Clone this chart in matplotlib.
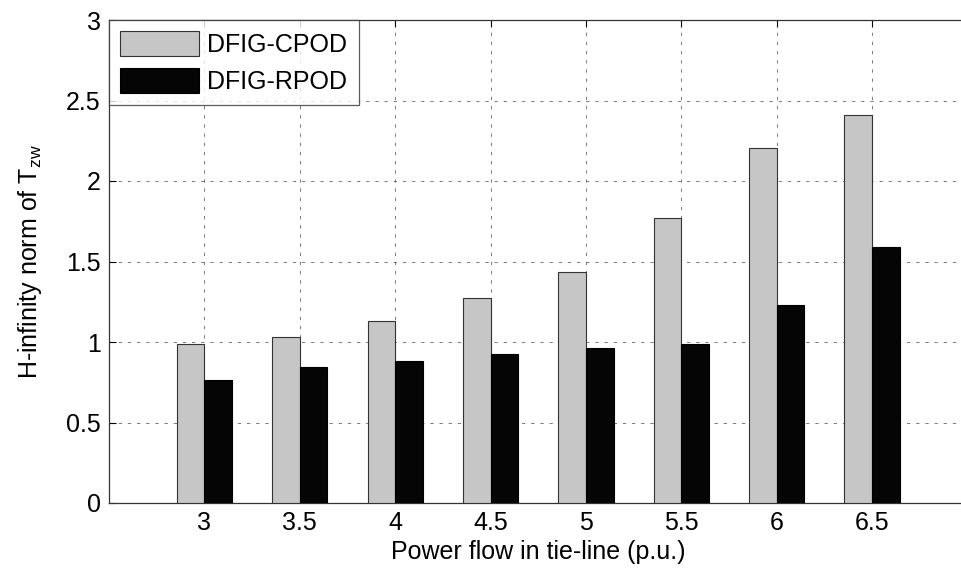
import matplotlib
matplotlib.use("Agg")
import matplotlib.pyplot as plt
import numpy as np

power_flow = [3, 3.5, 4, 4.5, 5, 5.5, 6, 6.5]
cpod = [0.99, 1.03, 1.13, 1.275, 1.435, 1.77, 2.205, 2.41]
rpod = [0.765, 0.845, 0.885, 0.925, 0.965, 0.99, 1.23, 1.59]
tick_labels = ["3", "3.5", "4", "4.5", "5", "5.5", "6", "6.5"]
y_ticks = [0, 0.5, 1, 1.5, 2, 2.5, 3]
y_tick_labels = ["0", "0.5", "1", "1.5", "2", "2.5", "3"]

plt.rcParams['font.family'] = ['Liberation Sans', 'DejaVu Sans']
FS = 18

fig = plt.figure(figsize=(9.62, 5.77), dpi=100)
ax = fig.add_axes([109/962, 1-503/577, (967.5-109)/962, (503-20)/577])

x = np.array(power_flow)
w = 0.145
ax.bar(x - w/2, cpod, width=w, color='#c6c6c6', edgecolor='#333333', linewidth=0.8,
       label='DFIG-CPOD', zorder=3)
ax.bar(x + w/2, rpod, width=w, color='#050505', edgecolor='#000000', linewidth=0.8,
       label='DFIG-RPOD', zorder=3)

ax.set_xlim(2.5, 7)
ax.set_ylim(0, 3)
ax.set_xticks(power_flow)
ax.set_xticklabels(tick_labels, fontsize=FS)
ax.set_yticks(y_ticks)
ax.set_yticklabels(y_tick_labels, fontsize=FS)
ax.tick_params(direction='in', top=True, right=True, length=5, width=0.8, pad=6)
ax.grid(True, linestyle=(0, (4, 7)), color='#666666', linewidth=0.6, zorder=0)
for s in ax.spines.values():
    s.set_linewidth(0.9)
    s.set_color('#333333')

ax.set_xlabel('Power flow in tie-line (p.u.)', fontsize=FS, labelpad=3)
ax.set_ylabel('H-infinity norm of T$_{\\mathregular{zw}}$', fontsize=FS, labelpad=16)

leg = ax.legend(loc='upper left', fontsize=FS, frameon=True, fancybox=False,
                borderaxespad=0, handlelength=3.16, handleheight=1.16,
                borderpad=0.45, labelspacing=0.42, handletextpad=0.32)
leg.get_frame().set_edgecolor('#333333')
leg.get_frame().set_linewidth(0.9)

fig.savefig('out.png', dpi=100)
